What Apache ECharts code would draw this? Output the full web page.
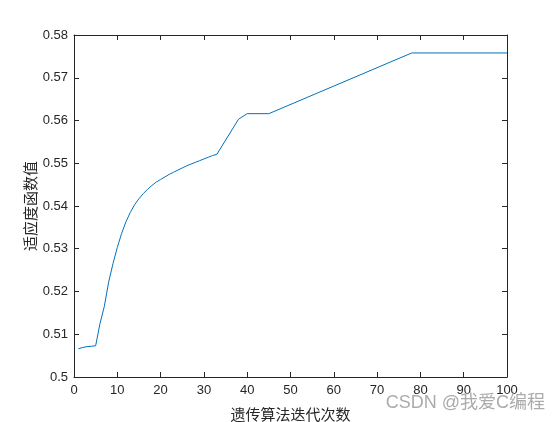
<!DOCTYPE html>
<html>
<head>
<meta charset="utf-8">
<script src="https://cdn.jsdelivr.net/npm/echarts@6/dist/echarts.min.js"></script>
<style>
  html, body { margin: 0; padding: 0; background: #fff; }
  #chart { width: 560px; height: 422px; }
</style>
</head>
<body>
<div id="chart"></div>
<script>
// iterations (x) and fitness values (y)
var iterations = [1, 2, 3, 4, 5, 6, 7, 8, 9, 10, 11, 12, 13, 14, 15, 16, 17, 18, 19, 20,
  21, 22, 23, 24, 25, 26, 27, 28, 29, 30, 31, 32, 33, 38, 40, 45, 78, 100]
var fitness = [0.5066, 0.5069, 0.5071, 0.5072, 0.5073, 0.5125, 0.5165, 0.5222, 0.5265, 0.5303,
  0.5336, 0.5363, 0.5385, 0.5403, 0.5417, 0.5429, 0.5439, 0.5448, 0.5456, 0.5462,
  0.5468, 0.5474, 0.5479, 0.5484, 0.5489, 0.5494, 0.5498, 0.5502, 0.5506, 0.5510,
  0.5514, 0.5518, 0.5521, 0.5603, 0.5616, 0.5616, 0.5758, 0.5758]
var xName = '遗传算法迭代次数'
var yName = '适应度函数值'
var watermark = 'CSDN @我爱C编程'

var axisColor = '#262626'
var chart = echarts.init(document.getElementById('chart'), null, { renderer: 'canvas' })

var tickStyle = { show: true, inside: true, length: 5, lineStyle: { color: axisColor, width: 1 } }

chart.setOption({
  animation: false,
  grid: { left: 74, right: 53, top: 35, bottom: 45, containLabel: false, outerBoundsMode: 'none' },
  xAxis: [{
    type: 'value',
    min: 0,
    max: 100,
    interval: 10,
    name: xName,
    nameLocation: 'middle',
    nameGap: 30,
    nameMoveOverlap: false,
    nameTextStyle: { fontFamily: 'Noto Sans CJK SC', fontSize: 15, color: axisColor },
    axisLine: { show: true, onZero: false, lineStyle: { color: axisColor, width: 1 } },
    axisTick: tickStyle,
    axisLabel: { fontFamily: 'Liberation Sans', fontSize: 13, color: axisColor, margin: 7 },
    splitLine: { show: false }
  }, {
    type: 'value',
    position: 'top',
    min: 0,
    max: 100,
    interval: 10,
    axisLine: { show: true, onZero: false, lineStyle: { color: axisColor, width: 1 } },
    axisTick: tickStyle,
    axisLabel: { show: false },
    splitLine: { show: false }
  }],
  yAxis: [{
    type: 'value',
    min: 0.5,
    max: 0.58,
    interval: 0.01,
    name: yName,
    nameLocation: 'middle',
    nameGap: 36,
    nameMoveOverlap: false,
    nameTextStyle: { fontFamily: 'Noto Sans CJK SC', fontSize: 15, color: axisColor },
    axisLine: { show: true, onZero: false, lineStyle: { color: axisColor, width: 1 } },
    axisTick: tickStyle,
    axisLabel: { fontFamily: 'Liberation Sans', fontSize: 13, color: axisColor, margin: 6 },
    splitLine: { show: false }
  }, {
    type: 'value',
    position: 'right',
    min: 0.5,
    max: 0.58,
    interval: 0.01,
    axisLine: { show: true, onZero: false, lineStyle: { color: axisColor, width: 1 } },
    axisTick: tickStyle,
    axisLabel: { show: false },
    splitLine: { show: false }
  }],
  graphic: [{
    type: 'text',
    right: 15,
    top: 394,
    z: 100,
    style: {
      text: watermark,
      fontFamily: 'Liberation Sans, Noto Sans CJK SC',
      fontSize: 18,
      fill: 'rgba(150,150,150,0.8)'
    }
  }],
  series: [{
    type: 'line',
    data: iterations.map(function(x, i) { return [x, fitness[i]] }),
    showSymbol: false,
    symbol: 'none',
    lineStyle: { color: '#0072BD', width: 1 }
  }]
})
</script>
</body>
</html>
